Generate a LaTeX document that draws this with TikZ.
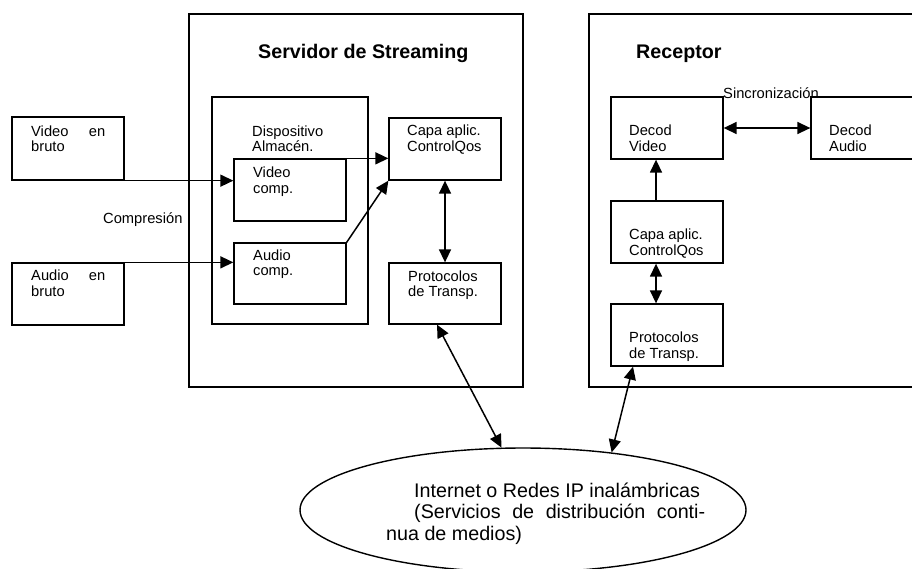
\documentclass[tikz,border=0pt]{standalone}
\usepackage{fontspec}
\setmainfont{Liberation Sans}
\usetikzlibrary{arrows.meta,shapes.geometric}
\begin{document}
\begin{tikzpicture}[x=1pt,y=-1pt,
  box/.style={draw, line width=1.3pt, inner sep=0pt, rectangle},
  lbl/.style={inner sep=0pt, anchor=north west, align=left, font=\fontsize{14.7pt}{15.7pt}\selectfont},
  ttl/.style={inner sep=0pt, anchor=base west, font=\fontsize{19.7pt}{21pt}\selectfont\bfseries},
  tip/.tip={Triangle[length=13pt,width=12pt]},
  arr/.style={line width=1.5pt, -tip},
  darr/.style={line width=1.5pt, tip-tip}]
\useasboundingbox (0,0) rectangle (912,568);
\clip (0,0) rectangle (912,568);

% outer boxes
\node[box, minimum width=334pt, minimum height=373pt] (srv) at (356,200.5) {};
\node[box, minimum width=331pt, minimum height=373pt] (rcv) at (754.5,200.5) {};
\node[box, minimum width=156pt, minimum height=227pt] (disp) at (290,210.5) {};

% boxes
\node[box, minimum width=112pt, minimum height=63pt] (vb) at (68,148.5) {};
\node[box, minimum width=112pt, minimum height=62pt] (ab) at (68,294) {};
\node[box, minimum width=112pt, minimum height=62pt] (vc) at (290,190) {};
\node[box, minimum width=112pt, minimum height=61pt] (ac) at (290,273.5) {};
\node[box, minimum width=112pt, minimum height=62pt] (scapa) at (445,149) {};
\node[box, minimum width=112pt, minimum height=61pt] (sprot) at (445,293.5) {};
\node[box, minimum width=112pt, minimum height=62pt] (dv) at (667,128) {};
\node[box, minimum width=109pt, minimum height=62pt] (da) at (865.5,128) {};
\node[box, minimum width=112pt, minimum height=62pt] (rcapa) at (667,232) {};
\node[box, minimum width=112pt, minimum height=62pt] (rprot) at (667,335) {};
\node[draw, ellipse, line width=1.4pt, inner sep=0pt, minimum width=446pt, minimum height=124pt] (net) at (523,510) {};

% titles
\node[ttl] (srvT) at (258,58.3) {Servidor de Streaming};
\node[ttl] (rcvT) at (636,58.3) {Receptor};

% labels
\node[lbl] (vbT) at (31,125.3) {\hbox to 74pt{Video\hfill en}\\bruto};
\node[lbl] (abT) at (31,270) {\hbox to 74pt{Audio\hfill en}\\bruto};
\node[lbl] (compT) at (103,212.3) {Compresión};
\node[lbl] (dispT) at (252,125.3) {Dispositivo\\Almacén.};
\node[lbl] (vcT) at (253,166.6) {Video\\comp.};
\node[lbl] (acT) at (253,249.3) {Audio\\comp.};
\node[lbl] (scT) at (407,125) {Capa aplic.\\ControlQos};
\node[lbl] (spT) at (408,270.3) {Protocolos\\de Transp.};
\node[lbl] (dvT) at (629,125) {Decod\\Video};
\node[lbl] (daT) at (829,125) {Decod\\Audio};
\node[lbl] (rcT) at (629,228.6) {Capa aplic.\\ControlQos};
\node[lbl] (rpT) at (629,332) {Protocolos\\de Transp.};
\node[lbl, anchor=base west] (syncT) at (723,98) {Sincronización};
\node[inner sep=0pt, anchor=north west, align=left, font=\fontsize{19.7pt}{21.5pt}\selectfont] (netT) at (386,482.5)
  {\hspace*{28pt}Internet o Redes IP inalámbricas\\
   \hspace*{28pt}\hbox to 291pt{(Servicios\hfill de\hfill distribución\hfill conti-}\\
   nua de medios)};

% connectors
\draw[arr] (vb.south east) -- (vb.south east -| vc.west);
\draw[arr] (ab.north east) -- (ab.north east -| ac.west);
\draw[arr] (vc.north east) -- (vc.north east -| scapa.west);
\draw[arr] (ac.north east) -- (scapa.south west);
\draw[darr] (scapa.south) -- (sprot.north);
\draw[darr] ([xshift=-8pt]sprot.south) -- (net.109.5);
\draw[darr] ([xshift=-34pt]rprot.south) -- (net.33);
\draw[darr] ([xshift=-11pt]rprot.north) -- ([xshift=-11pt]rcapa.south);
\draw[arr] ([xshift=-11pt]rcapa.north) -- ([xshift=-11pt]dv.south);
\draw[darr] (dv.east) -- (da.west);
\end{tikzpicture}
\end{document}
